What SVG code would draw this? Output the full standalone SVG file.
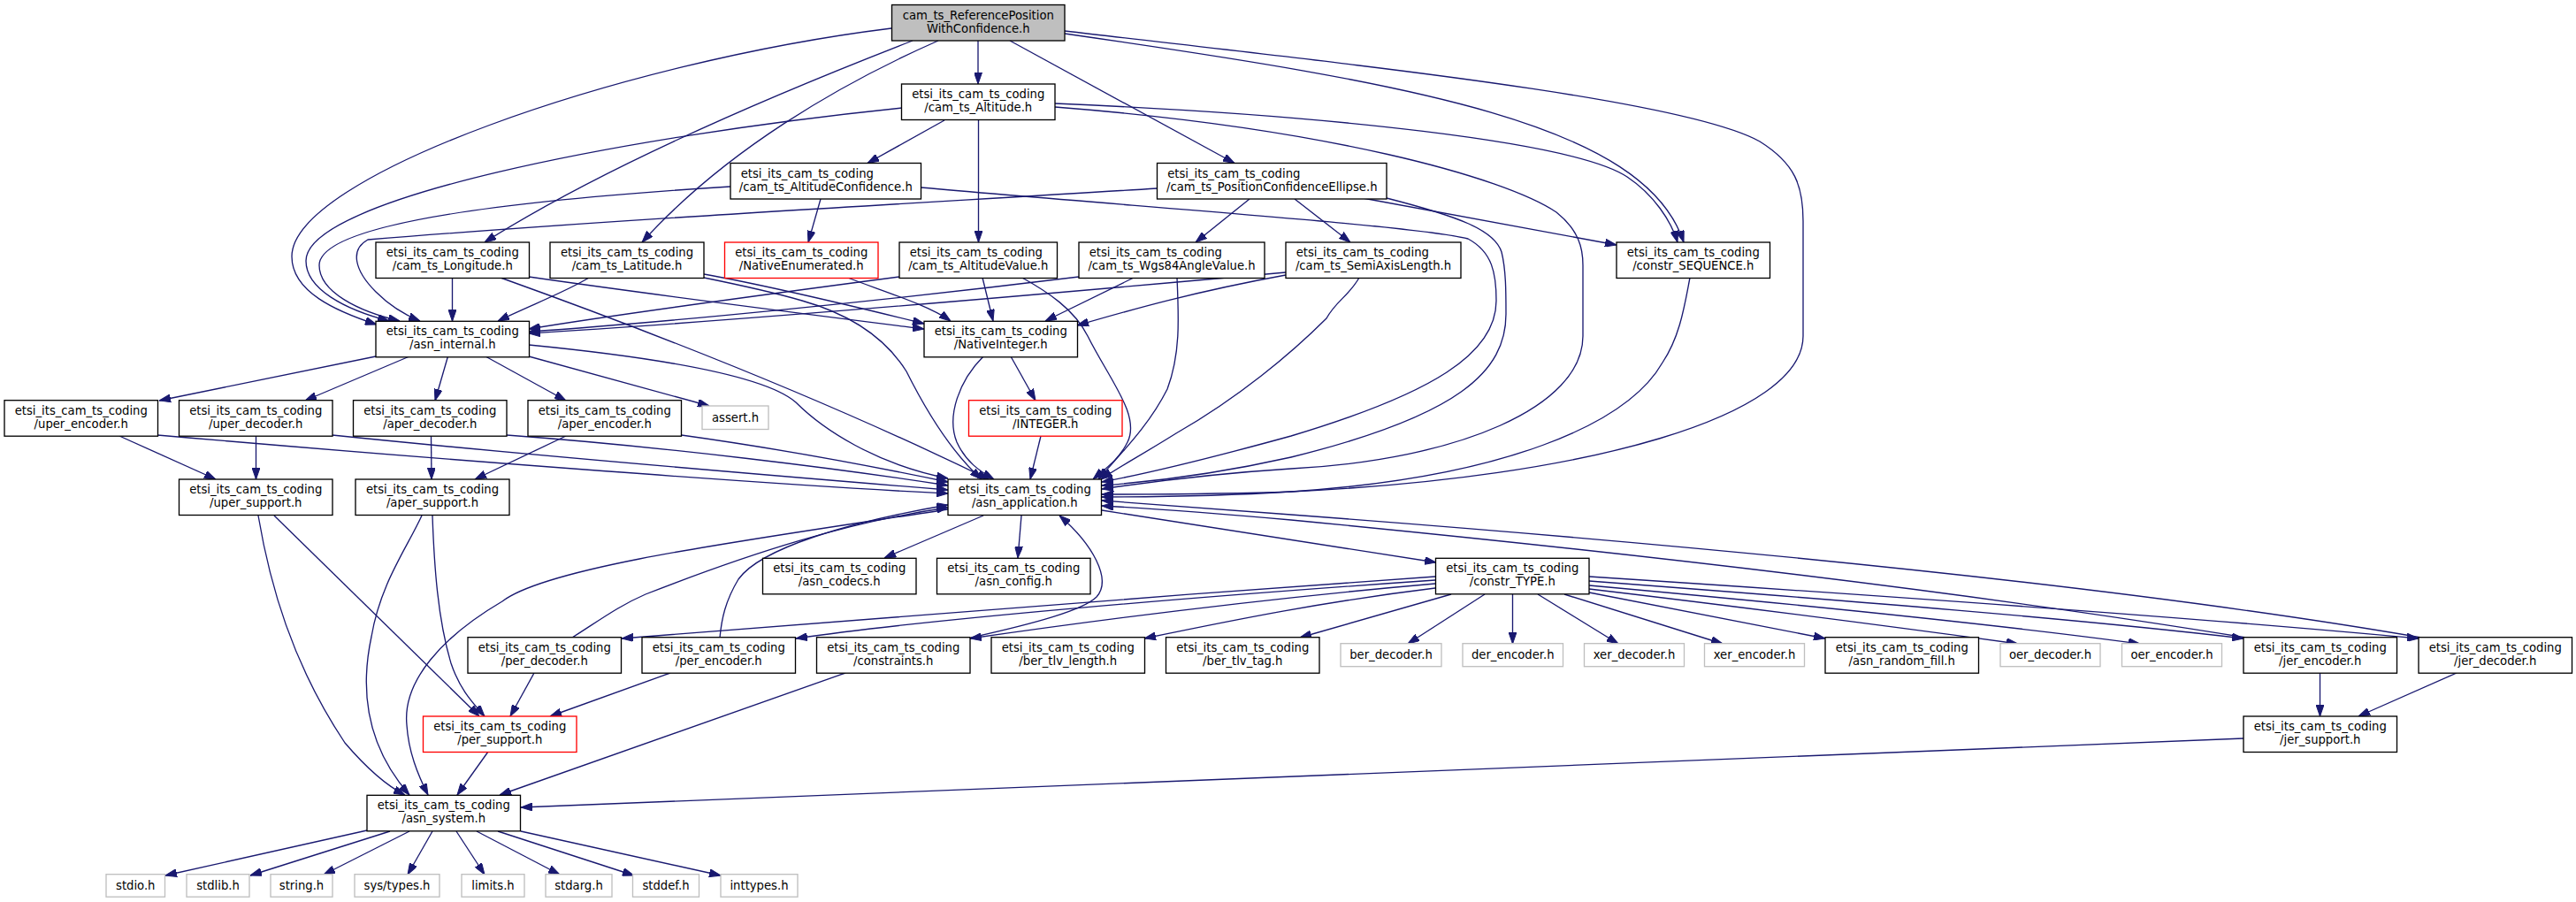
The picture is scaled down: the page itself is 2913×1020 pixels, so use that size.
<svg xmlns="http://www.w3.org/2000/svg" width="2913" height="1020" viewBox="0 0 2913 1020">
<style>
rect{fill:#ffffff;stroke:#000000;stroke-width:1.33}
rect.top{fill:#bfbfbf}
rect.red{stroke:#ff0000}
rect.gray{stroke:#bfbfbf}
text{font-family:"DejaVu Sans","Liberation Sans",sans-serif;font-size:13.2px;fill:#000000;text-anchor:middle}
text.s{text-anchor:start}
#edges path{fill:none;stroke:#191970;stroke-width:1.33;marker-end:url(#ah)}
</style>
<defs>
<marker id="ah" markerUnits="userSpaceOnUse" viewBox="0 0 13 9" refX="13" refY="4.5" markerWidth="13" markerHeight="9" orient="auto"><path d="M0,0L13,4.5L0,9z" fill="#191970" stroke="#191970" stroke-width="1"/></marker>
</defs>
<rect x="0" y="0" width="2913" height="1020" style="fill:#ffffff;stroke:none"/>
<g id="edges">
<path d="M1008,32 C700,70 330,200 330,290 C330,330 380,352 426,367"/>
<path d="M1020,122 C700,155 346,225 346,295 C346,327 390,350 440,363"/>
<path d="M826,211 C600,225 361,250 361,300 C361,330 405,352 452,363"/>
<path d="M1309,213 C1000,232 700,248 416,271 C396,282 400,305 425,330 C440,345 455,355 475,363"/>
<path d="M1032,46 C880,105 680,190 548,274"/>
<path d="M1061,46 C950,95 820,170 726,274"/>
<path d="M1106,46 L1106,95"/>
<path d="M1142,46 L1396,184.5"/>
<path d="M1204,38 C1600,95 1860,140 1904,274"/>
<path d="M1204,35 C1500,70 1900,110 1990,160 C2030,185 2039,210 2039,250 L2039,380 C2039,470 1800,540 1460,556 C1380,559 1300,559 1246,559"/>
<path d="M1193,117 C1500,130 1780,160 1840,200 C1870,220 1890,250 1897,274"/>
<path d="M1193,121 C1500,145 1700,200 1760,240 C1785,260 1790,280 1790,300 L1790,380 C1790,460 1650,520 1460,530 C1380,535 1300,545 1246,553"/>
<path d="M1068,136 L981,184.5"/>
<path d="M1106.5,135.5 L1106.5,274"/>
<path d="M928,225 L914,274"/>
<path d="M1041,212 C1300,235 1600,255 1660,270 C1688,285 1692,310 1692,340 C1692,400 1620,445 1460,493 C1380,515 1300,535 1246,545"/>
<path d="M1568,224 C1650,245 1690,260 1698,285 C1703,305 1703,330 1703,355 C1703,420 1650,470 1460,517 C1380,535 1300,545 1246,549"/>
<path d="M1541,224 L1828,277"/>
<path d="M1464,225 L1527,274"/>
<path d="M1413,225 L1352,274"/>
<path d="M511.5,314.5 L511.5,363.3"/>
<path d="M598,313 C750,335 950,360 1045,372"/>
<path d="M566,314 C750,380 950,460 1118,542"/>
<path d="M666,314 C640,330 600,345 563,363"/>
<path d="M796,310 C880,325 980,350 1045,366"/>
<path d="M796,314 C850,325 890,335 907,340 C960,355 1000,380 1025,420 C1050,470 1080,515 1110,542"/>
<path d="M956,313 C1000,330 1050,345 1075,363"/>
<path d="M1017,313 C850,335 700,355 598,372"/>
<path d="M1111,314 L1123,363"/>
<path d="M1154,313 C1185,330 1215,350 1230,380 C1255,430 1290,470 1275,500 C1265,520 1250,530 1236,542"/>
<path d="M1331,314 C1333,360 1335,400 1320,440 C1300,480 1270,510 1242,542"/>
<path d="M1220,313 C1000,340 750,365 598,375"/>
<path d="M1282,314 L1182,363"/>
<path d="M1454,308 C1100,340 800,365 598,377"/>
<path d="M1454,311 C1350,330 1280,350 1218,368"/>
<path d="M1537,314 C1525,335 1511,340 1500,360 C1460,400 1400,450 1330,490 C1290,515 1262,530 1245,542"/>
<path d="M1911,314 C1905,345 1900,380 1880,410 C1840,480 1700,540 1460,556 C1380,561 1300,562 1246,562"/>
<path d="M425,403 L180,453"/>
<path d="M463,403 L345,453"/>
<path d="M506.5,403 L492,453"/>
<path d="M549,403 L640,453"/>
<path d="M598,403 C680,425 750,445 802,459"/>
<path d="M598,390 C700,400 860,420 900,455 C930,485 990,525 1072,541"/>
<path d="M135,493 L244,542"/>
<path d="M178,492 C500,520 900,550 1072,558"/>
<path d="M289.5,493 L289.5,542"/>
<path d="M375.7,492 C600,515 900,540 1072,554"/>
<path d="M487.5,493 L488,542"/>
<path d="M573,492 C750,505 950,530 1072,549"/>
<path d="M640,493 L537,542"/>
<path d="M770.5,492 C900,510 1000,530 1072,545"/>
<path d="M292,583 C305,660 330,750 390,840 C420,875 440,890 458,899"/>
<path d="M310,583 L542,810"/>
<path d="M477,583 C460,620 430,660 420,720 C405,790 420,850 463,899"/>
<path d="M489,583 C491,640 495,700 510,750 C520,780 535,795 548,810"/>
<path d="M1072,576 C850,610 620,640 568,680 C500,720 455,770 460,820 C462,850 472,875 484,899"/>
<path d="M1112,583 L1000,631"/>
<path d="M1155,583 L1151,631"/>
<path d="M1246,577 L1624,636"/>
<path d="M1143,403 L1171,453"/>
<path d="M1112,403 C1085,430 1070,470 1082,500 C1092,522 1108,533 1124,542"/>
<path d="M1177,493 L1165,542"/>
<path d="M1623,652 C1300,675 900,705 703,722"/>
<path d="M1623,656 C1350,675 1050,700 900,722"/>
<path d="M1623,660 C1450,675 1250,700 1097,722"/>
<path d="M1623,665 C1500,680 1400,700 1294,722"/>
<path d="M1641,672 L1470,721"/>
<path d="M1679,672 L1592,728"/>
<path d="M1710.5,672 L1710.5,728"/>
<path d="M1739,672 L1830,728"/>
<path d="M1769,672 L1948,728"/>
<path d="M1797,670 L2064,722"/>
<path d="M1797,666 C2000,690 2150,710 2282,728"/>
<path d="M1797,662 C2050,685 2250,705 2420,728"/>
<path d="M1797,657 C2100,680 2350,700 2537,722"/>
<path d="M1797,652 C2150,675 2500,700 2735,722"/>
<path d="M2540,721 C2350,690 2000,640 1460,588 C1380,581 1300,575 1246,572"/>
<path d="M2738,721 C2500,680 2100,630 1460,582 C1380,576 1300,570 1246,566"/>
<path d="M604,761 L577,810"/>
<path d="M647,721 C680,700 700,685 730,672 C850,625 960,590 1072,574"/>
<path d="M814,721 C816,700 820,680 835,655 C860,620 960,590 1072,571"/>
<path d="M758,761 L622,810"/>
<path d="M956,761 L565,899"/>
<path d="M1098,721 C1170,705 1225,690 1240,675 C1258,655 1235,615 1198,583"/>
<path d="M552,850 L517,899"/>
<path d="M2537,835 L589,913"/>
<path d="M2623.5,761 L2623.5,810"/>
<path d="M2778,761 L2667,810"/>
<path d="M415,939 L187,990"/>
<path d="M441,940 L283,990"/>
<path d="M463,940 L366,989"/>
<path d="M489,940 L461,989"/>
<path d="M516,940 L548,989"/>
<path d="M539,940 L633,989"/>
<path d="M563,940 L717,990"/>
<path d="M589,940 L815,990"/>
</g>
<g id="n_top"><rect class="top" x="1008.5" y="5.5" width="195.5" height="40.5"/><text x="1106.25" y="21.5">cam_ts_ReferencePosition</text><text x="1106.25" y="36.5">WithConfidence.h</text></g>
<g id="n_altitude"><rect x="1019.5" y="95" width="173.5" height="40.5"/><text x="1106.25" y="111">etsi_its_cam_ts_coding</text><text x="1106.25" y="126">/cam_ts_Altitude.h</text></g>
<g id="n_altconf"><rect x="826" y="184.5" width="215.5" height="40.5"/><text class="s" x="837.7" y="200.5">etsi_its_cam_ts_coding</text><text x="933.75" y="215.5">/cam_ts_AltitudeConfidence.h</text></g>
<g id="n_posconf"><rect x="1308.5" y="184.5" width="259.5" height="40.5"/><text class="s" x="1320.2" y="200.5">etsi_its_cam_ts_coding</text><text x="1438.25" y="215.5">/cam_ts_PositionConfidenceEllipse.h</text></g>
<g id="n_longitude"><rect x="425" y="274" width="173.5" height="40.5"/><text x="511.75" y="290">etsi_its_cam_ts_coding</text><text x="511.75" y="305">/cam_ts_Longitude.h</text></g>
<g id="n_latitude"><rect x="622" y="274" width="174" height="40.5"/><text x="709" y="290">etsi_its_cam_ts_coding</text><text x="709" y="305">/cam_ts_Latitude.h</text></g>
<g id="n_nativeenum"><rect class="red" x="819.5" y="274" width="173.5" height="40.5"/><text x="906.25" y="290">etsi_its_cam_ts_coding</text><text x="906.25" y="305">/NativeEnumerated.h</text></g>
<g id="n_altvalue"><rect x="1017" y="274" width="178.5" height="40.5"/><text class="s" x="1028.7" y="290">etsi_its_cam_ts_coding</text><text x="1106.25" y="305">/cam_ts_AltitudeValue.h</text></g>
<g id="n_wgs84"><rect x="1220" y="274" width="210" height="40.5"/><text class="s" x="1231.7" y="290">etsi_its_cam_ts_coding</text><text x="1325" y="305">/cam_ts_Wgs84AngleValue.h</text></g>
<g id="n_semiaxis"><rect x="1454" y="274" width="198" height="40.5"/><text class="s" x="1465.7" y="290">etsi_its_cam_ts_coding</text><text x="1553" y="305">/cam_ts_SemiAxisLength.h</text></g>
<g id="n_constrseq"><rect x="1828" y="274" width="173.5" height="40.5"/><text x="1914.75" y="290">etsi_its_cam_ts_coding</text><text x="1914.75" y="305">/constr_SEQUENCE.h</text></g>
<g id="n_asninternal"><rect x="425" y="363.3" width="173.5" height="40.5"/><text x="511.75" y="379.3">etsi_its_cam_ts_coding</text><text x="511.75" y="394.3">/asn_internal.h</text></g>
<g id="n_nativeint"><rect x="1045" y="363.3" width="173.5" height="40.5"/><text x="1131.75" y="379.3">etsi_its_cam_ts_coding</text><text x="1131.75" y="394.3">/NativeInteger.h</text></g>
<g id="n_uperenc"><rect x="5" y="452.7" width="173.5" height="40.5"/><text x="91.75" y="468.7">etsi_its_cam_ts_coding</text><text x="91.75" y="483.7">/uper_encoder.h</text></g>
<g id="n_uperdec"><rect x="202.5" y="452.7" width="173.5" height="40.5"/><text x="289.25" y="468.7">etsi_its_cam_ts_coding</text><text x="289.25" y="483.7">/uper_decoder.h</text></g>
<g id="n_aperdec"><rect x="399.5" y="452.7" width="173.5" height="40.5"/><text x="486.25" y="468.7">etsi_its_cam_ts_coding</text><text x="486.25" y="483.7">/aper_decoder.h</text></g>
<g id="n_aperenc"><rect x="597" y="452.7" width="173.5" height="40.5"/><text x="683.75" y="468.7">etsi_its_cam_ts_coding</text><text x="683.75" y="483.7">/aper_encoder.h</text></g>
<g id="n_assert"><rect class="gray" x="794" y="459" width="75" height="26.5"/><text x="831.5" y="477">assert.h</text></g>
<g id="n_integer"><rect class="red" x="1095.5" y="452.7" width="173.5" height="40.5"/><text x="1182.25" y="468.7">etsi_its_cam_ts_coding</text><text x="1182.25" y="483.7">/INTEGER.h</text></g>
<g id="n_upersup"><rect x="202.5" y="542" width="173.5" height="40.5"/><text x="289.25" y="558">etsi_its_cam_ts_coding</text><text x="289.25" y="573">/uper_support.h</text></g>
<g id="n_apersup"><rect x="402" y="542" width="174" height="40.5"/><text x="489" y="558">etsi_its_cam_ts_coding</text><text x="489" y="573">/aper_support.h</text></g>
<g id="n_asnapp"><rect x="1072" y="542" width="173.5" height="40.5"/><text x="1158.75" y="558">etsi_its_cam_ts_coding</text><text x="1158.75" y="573">/asn_application.h</text></g>
<g id="n_codecs"><rect x="862.5" y="631.3" width="173.5" height="40.5"/><text x="949.25" y="647.3">etsi_its_cam_ts_coding</text><text x="949.25" y="662.3">/asn_codecs.h</text></g>
<g id="n_config"><rect x="1059.5" y="631.3" width="173.5" height="40.5"/><text x="1146.25" y="647.3">etsi_its_cam_ts_coding</text><text x="1146.25" y="662.3">/asn_config.h</text></g>
<g id="n_constrtype"><rect x="1623.5" y="631.3" width="173.5" height="40.5"/><text x="1710.25" y="647.3">etsi_its_cam_ts_coding</text><text x="1710.25" y="662.3">/constr_TYPE.h</text></g>
<g id="n_perdec"><rect x="529" y="720.7" width="173.5" height="40.5"/><text x="615.75" y="736.7">etsi_its_cam_ts_coding</text><text x="615.75" y="751.7">/per_decoder.h</text></g>
<g id="n_perenc"><rect x="726" y="720.7" width="173.5" height="40.5"/><text x="812.75" y="736.7">etsi_its_cam_ts_coding</text><text x="812.75" y="751.7">/per_encoder.h</text></g>
<g id="n_constraints"><rect x="923.5" y="720.7" width="173.5" height="40.5"/><text x="1010.25" y="736.7">etsi_its_cam_ts_coding</text><text x="1010.25" y="751.7">/constraints.h</text></g>
<g id="n_bertlvlen"><rect x="1121" y="720.7" width="173.5" height="40.5"/><text x="1207.75" y="736.7">etsi_its_cam_ts_coding</text><text x="1207.75" y="751.7">/ber_tlv_length.h</text></g>
<g id="n_bertlvtag"><rect x="1318.5" y="720.7" width="173.5" height="40.5"/><text x="1405.25" y="736.7">etsi_its_cam_ts_coding</text><text x="1405.25" y="751.7">/ber_tlv_tag.h</text></g>
<g id="n_berdec"><rect class="gray" x="1516" y="727.7" width="114" height="26"/><text x="1573" y="745.4">ber_decoder.h</text></g>
<g id="n_derenc"><rect class="gray" x="1654" y="727.7" width="113.5" height="26"/><text x="1710.75" y="745.4">der_encoder.h</text></g>
<g id="n_xerdec"><rect class="gray" x="1791.5" y="727.7" width="113" height="26"/><text x="1848" y="745.4">xer_decoder.h</text></g>
<g id="n_xerenc"><rect class="gray" x="1927.5" y="727.7" width="113" height="26"/><text x="1984" y="745.4">xer_encoder.h</text></g>
<g id="n_randfill"><rect x="2064" y="720.7" width="173.5" height="40.5"/><text x="2150.75" y="736.7">etsi_its_cam_ts_coding</text><text x="2150.75" y="751.7">/asn_random_fill.h</text></g>
<g id="n_oerdec"><rect class="gray" x="2262" y="727.7" width="113" height="26"/><text x="2318.5" y="745.4">oer_decoder.h</text></g>
<g id="n_oerenc"><rect class="gray" x="2399.5" y="727.7" width="113" height="26"/><text x="2456" y="745.4">oer_encoder.h</text></g>
<g id="n_jerenc"><rect x="2537" y="720.7" width="173.5" height="40.5"/><text x="2623.75" y="736.7">etsi_its_cam_ts_coding</text><text x="2623.75" y="751.7">/jer_encoder.h</text></g>
<g id="n_jerdec"><rect x="2735" y="720.7" width="173.5" height="40.5"/><text x="2821.75" y="736.7">etsi_its_cam_ts_coding</text><text x="2821.75" y="751.7">/jer_decoder.h</text></g>
<g id="n_persup"><rect class="red" x="478.5" y="810" width="173.5" height="40.5"/><text x="565.25" y="826">etsi_its_cam_ts_coding</text><text x="565.25" y="841">/per_support.h</text></g>
<g id="n_jersup"><rect x="2537" y="810" width="173.5" height="40.5"/><text x="2623.75" y="826">etsi_its_cam_ts_coding</text><text x="2623.75" y="841">/jer_support.h</text></g>
<g id="n_asnsystem"><rect x="415" y="899.3" width="173.5" height="40.5"/><text x="501.75" y="915.3">etsi_its_cam_ts_coding</text><text x="501.75" y="930.3">/asn_system.h</text></g>
<g id="n_stdio"><rect class="gray" x="120" y="988.7" width="66.5" height="25.5"/><text x="153.25" y="1006.2">stdio.h</text></g>
<g id="n_stdlib"><rect class="gray" x="211" y="988.7" width="71" height="25.5"/><text x="246.5" y="1006.2">stdlib.h</text></g>
<g id="n_string"><rect class="gray" x="306" y="988.7" width="70" height="25.5"/><text x="341" y="1006.2">string.h</text></g>
<g id="n_systypes"><rect class="gray" x="401" y="988.7" width="96" height="25.5"/><text x="449" y="1006.2">sys/types.h</text></g>
<g id="n_limits"><rect class="gray" x="522" y="988.7" width="71" height="25.5"/><text x="557.5" y="1006.2">limits.h</text></g>
<g id="n_stdarg"><rect class="gray" x="617" y="988.7" width="75" height="25.5"/><text x="654.5" y="1006.2">stdarg.h</text></g>
<g id="n_stddef"><rect class="gray" x="715.5" y="988.7" width="75" height="25.5"/><text x="753" y="1006.2">stddef.h</text></g>
<g id="n_inttypes"><rect class="gray" x="815" y="988.7" width="87" height="25.5"/><text x="858.5" y="1006.2">inttypes.h</text></g>
</svg>
